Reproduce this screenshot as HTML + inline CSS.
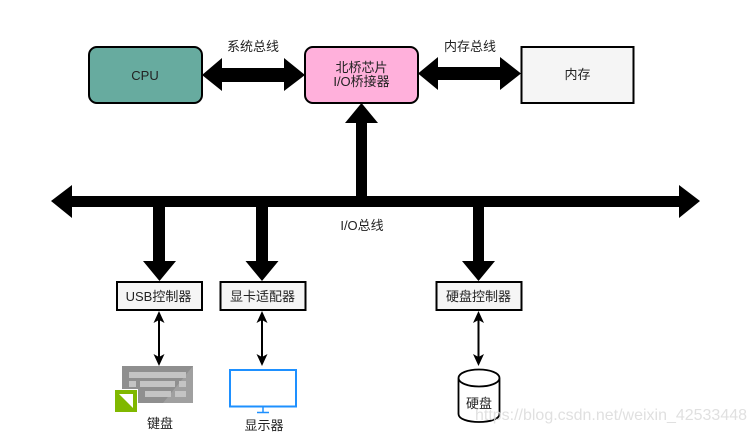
<!DOCTYPE html>
<html><head><meta charset="utf-8">
<style>html,body{margin:0;padding:0;background:#fff}svg{display:block;filter:blur(0.35px)}
text{font-family:"Liberation Sans","Noto Sans CJK SC",sans-serif;fill:#222;font-size:13px;text-anchor:middle}</style>
</head><body>
<svg width="756" height="433" viewBox="0 0 756 433" xmlns="http://www.w3.org/2000/svg">
<rect width="756" height="433" fill="#fff"/>
<rect x="89" y="47" width="113" height="56" rx="8" fill="#67ab9f" stroke="#000" stroke-width="2"/>
<rect x="305" y="47" width="113" height="56" rx="8" fill="#ffb0db" stroke="#000" stroke-width="2"/>
<rect x="521.5" y="47" width="112" height="56" fill="#f5f5f5" stroke="#000" stroke-width="2"/>
<polygon points="202,75 222,58 222,68 284,68 284,58 305,75 284,91 284,82 222,82 222,91" fill="#000"/>
<polygon points="418,73.5 438,57 438,67 500,67 500,57 521,73.5 500,90 500,80 438,80 438,90" fill="#000"/>
<polygon points="51,201 72,185 72,196 679,196 679,185 700,201 679,218 679,207 72,207 72,218" fill="#000"/>
<polygon points="361.5,103 378,123 367,123 367,197 356,197 356,123 345,123" fill="#000"/>
<polygon points="153,206 165,206 165,261 176,261 159.5,281 143,261 153,261" fill="#000"/>
<polygon points="256,206 268,206 268,261 278.500,261 262,281 245.500,261 256,261" fill="#000"/>
<polygon points="473,206 484,206 484,261 495,261 478.500,281 462,261 473,261" fill="#000"/>
<rect x="117" y="282" width="85" height="28" fill="#f5f5f5" stroke="#000" stroke-width="2"/>
<rect x="220.500" y="282" width="85" height="28" fill="#f5f5f5" stroke="#000" stroke-width="2"/>
<rect x="436.500" y="282" width="85" height="28" fill="#f5f5f5" stroke="#000" stroke-width="2"/>
<g stroke="#000" stroke-width="2" fill="#000">
<line x1="159" y1="315" x2="159" y2="362"/>
<line x1="262" y1="315" x2="262" y2="362"/>
<line x1="478.500" y1="315" x2="478.500" y2="362"/>
</g>
<g fill="#000">
<polygon points="159,311 164.500,323 159,320 153.500,323"/>
<polygon points="159,366 164.500,354 159,357 153.500,354"/>
<polygon points="262,311 267.500,323 262,320 256.500,323"/>
<polygon points="262,366 267.500,354 262,357 256.500,354"/>
<polygon points="478.500,311 484,323 478.500,320 473,323"/>
<polygon points="478.500,366 484,354 478.500,357 473,354"/>
</g>
<!-- keyboard -->
<rect x="122" y="366" width="71" height="37" fill="#8f8f8f"/>
<polygon points="163,403 193,366 193,403" fill="#a0a0a0"/>
<g fill="#c4c4c4">
<rect x="129" y="372" width="57" height="6"/>
<rect x="129" y="381" width="7" height="6"/>
<rect x="140" y="381" width="35" height="6"/>
<rect x="179" y="381" width="7" height="6"/>
<rect x="145" y="391" width="26" height="6"/>
<rect x="175" y="391" width="11" height="6"/>
</g>
<rect x="114" y="389" width="24" height="24" fill="#fff"/>
<rect x="115" y="390" width="22" height="22" fill="#80b800"/>
<polygon points="119,394 133,394 133,408" fill="#fff"/>
<!-- monitor -->
<rect x="230" y="370" width="66" height="36.500" fill="#fff" stroke="#1e90ff" stroke-width="2"/>
<path d="M263 407V412.500M257 412.500H269" stroke="#1e90ff" stroke-width="1.500" fill="none"/>
<!-- cylinder -->
<path d="M458.500 378V414C458.500 419 468 422 479 422S499.500 419 499.500 414V378C499.500 373 490 369.500 479 369.500S458.500 373 458.500 378C458.500 383 468 386.500 479 386.500S499.500 383 499.500 378" fill="#fff" stroke="#000" stroke-width="1.800"/>
<text x="145" y="80">CPU</text>
<text x="361.500" y="72">北桥芯片</text>
<text x="361.500" y="86">I/O桥接器</text>
<text x="577.500" y="79">内存</text>
<text x="253" y="51">系统总线</text>
<text x="470" y="51">内存总线</text>
<text x="362" y="230">I/O总线</text>
<text x="158.500" y="301">USB控制器</text>
<text x="262.500" y="301">显卡适配器</text>
<text x="478.500" y="301">硬盘控制器</text>
<text x="160" y="428">键盘</text>
<text x="264" y="430">显示器</text>
<text x="479" y="408">硬盘</text>
<text x="611" y="420" style="font-size:16px;fill:#d8d8d8;fill-opacity:.8" textLength="272" lengthAdjust="spacingAndGlyphs">https://blog.csdn.net/weixin_42533448</text>
</svg>
</body></html>
